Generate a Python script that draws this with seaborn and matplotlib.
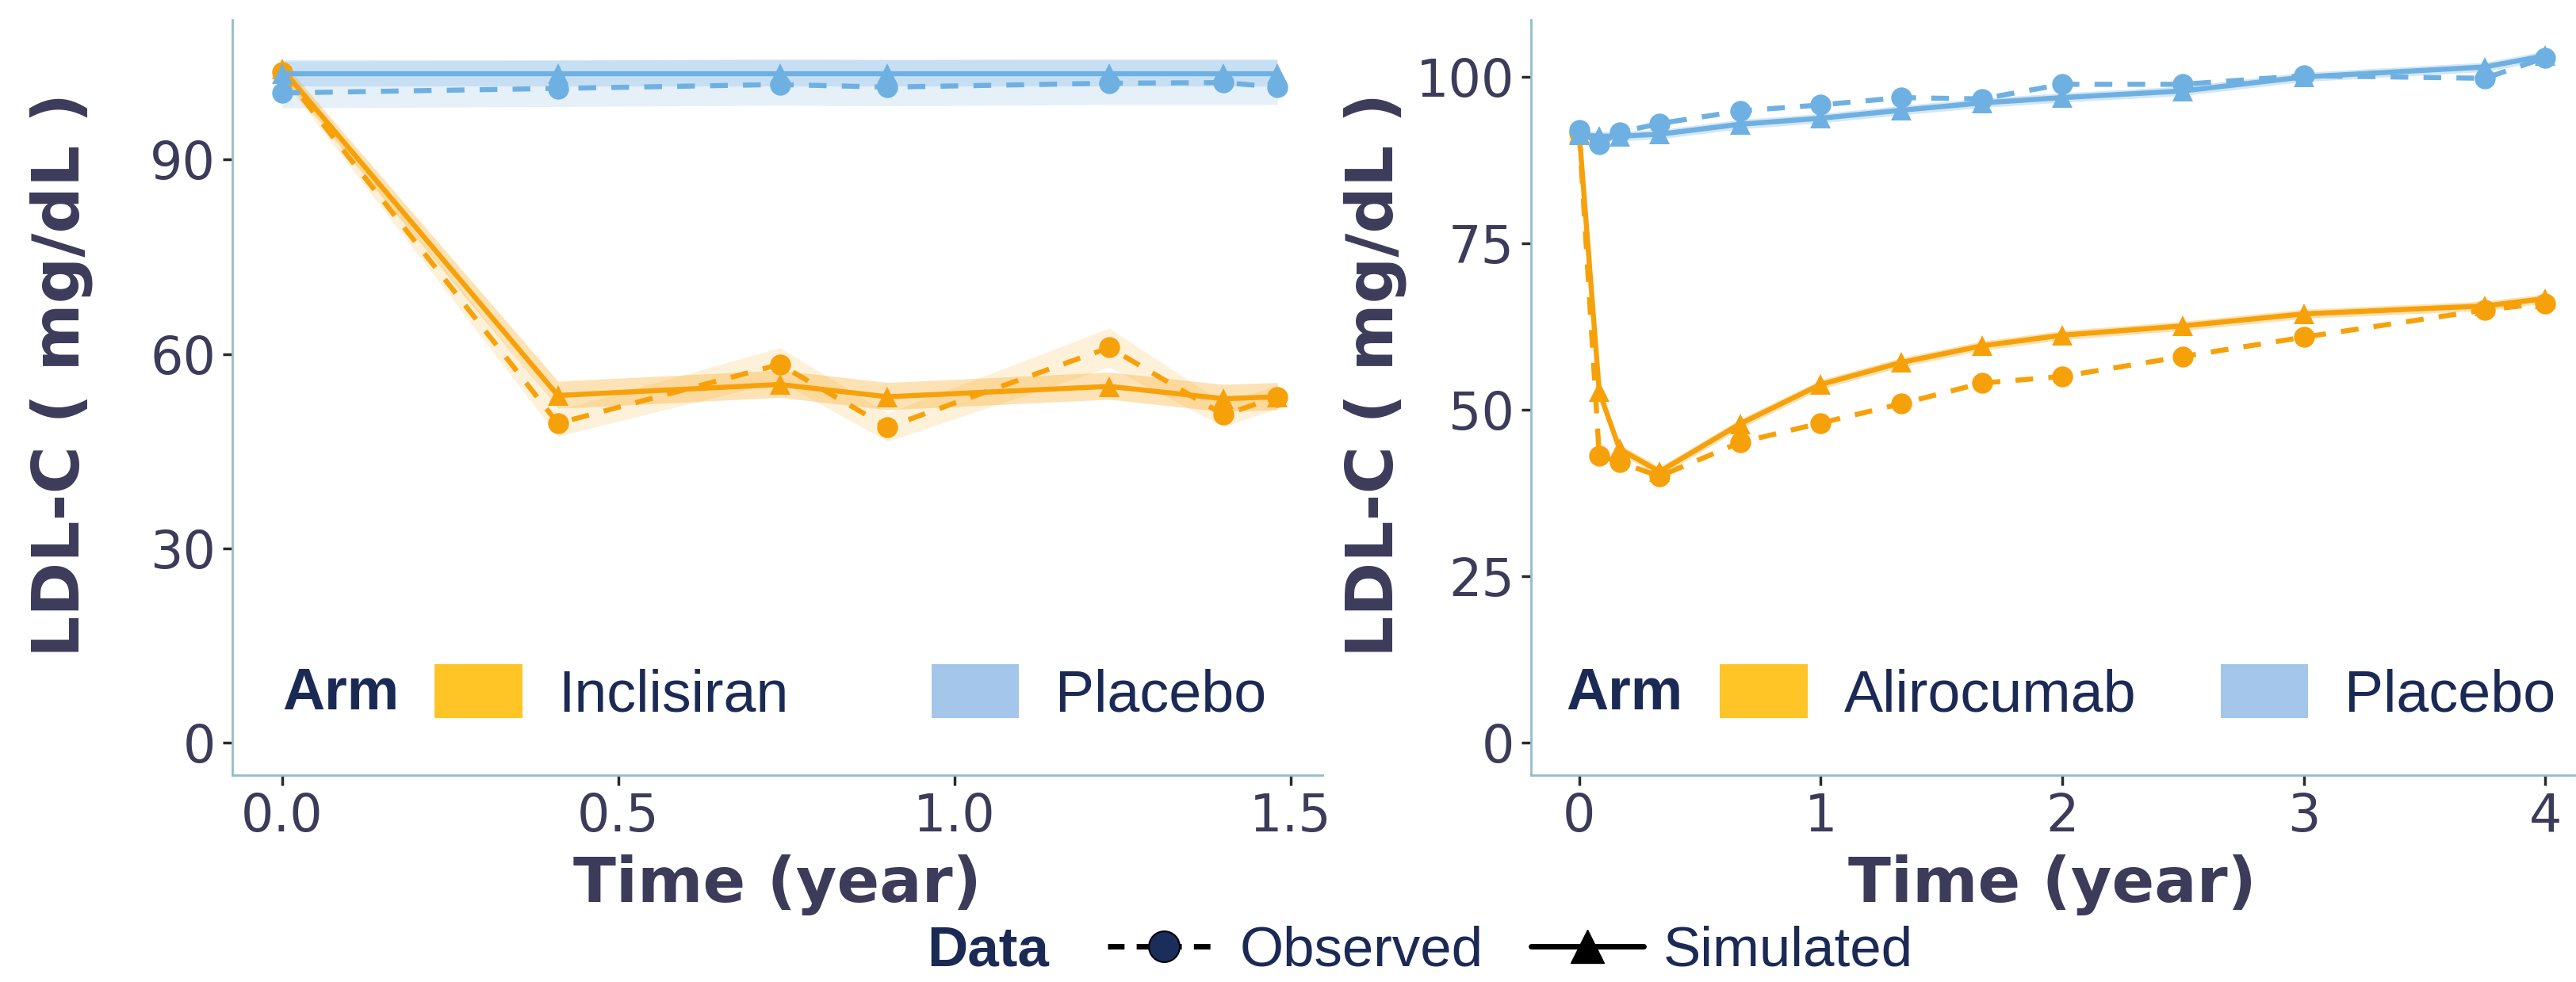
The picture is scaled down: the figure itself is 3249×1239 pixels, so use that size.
import matplotlib
matplotlib.use("Agg")
import matplotlib.pyplot as plt
import seaborn as sns
import pandas as pd
from matplotlib.patches import Patch
from matplotlib.lines import Line2D

# ----------------- DATA -----------------
# left panel: Inclisiran vs Placebo
t_left = [0.0, 0.41, 0.74, 0.90, 1.23, 1.40, 1.48]
incl_obs = [103.5, 49.3, 58.4, 48.7, 61.0, 50.6, 53.4]
incl_obs_lo = [102.5, 47.3, 55.8, 46.5, 58.0, 48.8, 51.6]
incl_obs_hi = [104.5, 51.3, 61.0, 50.9, 64.0, 52.4, 55.2]
incl_sim = [104.0, 53.6, 55.3, 53.4, 55.0, 53.1, 53.4]
incl_sim_lo = [102.8, 51.6, 53.3, 51.4, 53.0, 51.1, 51.4]
incl_sim_hi = [105.2, 55.8, 57.5, 55.6, 57.2, 55.3, 55.6]
plc_l_obs = [100.3, 101.0, 101.6, 101.2, 101.8, 101.9, 101.2]
plc_l_obs_lo = [98.0, 98.2, 98.4, 98.3, 98.5, 98.5, 98.5]
plc_l_obs_hi = [105.2, 105.3, 105.6, 105.5, 105.6, 105.6, 105.6]
plc_l_sim = [103.3, 103.3, 103.3, 103.3, 103.3, 103.3, 103.3]
plc_l_sim_lo = [101.3, 101.3, 101.3, 101.3, 101.3, 101.3, 101.3]
plc_l_sim_hi = [105.3, 105.3, 105.3, 105.3, 105.3, 105.3, 105.3]

# right panel: Alirocumab vs Placebo
t_right = [0.0, 0.083, 0.167, 0.333, 0.667, 1.0, 1.333, 1.667, 2.0, 2.5, 3.0, 3.75, 4.0]
aliro_obs = [91.6, 43.1, 42.1, 40.0, 45.1, 48.0, 50.9, 54.0, 55.0, 58.0, 60.9, 65.0, 66.0]
aliro_sim = [91.6, 52.7, 44.1, 40.7, 47.9, 53.8, 57.1, 59.6, 61.2, 62.6, 64.4, 65.6, 66.7]
aliro_sim_lo = [91.0, 52.0, 43.4, 40.0, 47.2, 53.1, 56.4, 58.9, 60.5, 61.9, 63.7, 64.9, 66.0]
aliro_sim_hi = [92.2, 53.4, 44.8, 41.4, 48.6, 54.5, 57.8, 60.3, 61.9, 63.3, 65.1, 66.3, 67.4]
plc_r_obs = [92.0, 89.9, 91.7, 93.0, 94.9, 95.8, 96.9, 96.7, 98.9, 98.9, 100.2, 99.8, 102.9]
plc_r_sim = [91.3, 91.1, 91.1, 91.4, 92.9, 93.8, 95.0, 96.1, 96.9, 97.9, 100.0, 101.5, 103.2]
plc_r_sim_lo = [90.6, 90.4, 90.4, 90.7, 92.2, 93.1, 94.3, 95.4, 96.2, 97.2, 99.3, 100.8, 102.5]
plc_r_sim_hi = [92.0, 91.8, 91.8, 92.1, 93.6, 94.5, 95.7, 96.8, 97.6, 98.6, 100.7, 102.2, 103.9]

ORANGE = "#F7A10A"
BLUE = "#6FB0E2"
ORANGE_PATCH = "#FFC425"
BLUE_PATCH = "#A3C6EA"
NAVY = "#1B2A55"
TICK_COL = "#3C3B5A"
SPINE_COL = "#94BCCB"


def long_df(t, arm, obs, sim):
    rows = []
    for ti, o, s in zip(t, obs, sim):
        rows.append({"Time": ti, "LDL": o, "Arm": arm, "Data": "Observed"})
        rows.append({"Time": ti, "LDL": s, "Arm": arm, "Data": "Simulated"})
    return rows


df_left = pd.DataFrame(long_df(t_left, "Inclisiran", incl_obs, incl_sim)
                       + long_df(t_left, "Placebo", plc_l_obs, plc_l_sim))
df_right = pd.DataFrame(long_df(t_right, "Alirocumab", aliro_obs, aliro_sim)
                        + long_df(t_right, "Placebo", plc_r_obs, plc_r_sim))

sns.set_theme(style="white")
plt.rcParams["font.family"] = ["DejaVu Sans"]

fig = plt.figure(figsize=(32.49, 12.39), dpi=100)
ax1 = fig.add_axes([0.0902, 0.2107, 0.4232, 0.7692])
ax2 = fig.add_axes([0.5943, 0.2107, 0.4050, 0.7692])

# ----------------- BANDS -----------------
ax1.fill_between(t_left, plc_l_obs_lo, plc_l_obs_hi, color=BLUE, alpha=0.18, lw=0)
ax1.fill_between(t_left, plc_l_sim_lo, plc_l_sim_hi, color=BLUE, alpha=0.25, lw=0)
ax1.fill_between(t_left, incl_obs_lo, incl_obs_hi, color=ORANGE, alpha=0.15, lw=0)
ax1.fill_between(t_left, incl_sim_lo, incl_sim_hi, color=ORANGE, alpha=0.3, lw=0)
ax2.fill_between(t_right, plc_r_sim_lo, plc_r_sim_hi, color=BLUE, alpha=0.3, lw=0)
ax2.fill_between(t_right, aliro_sim_lo, aliro_sim_hi, color=ORANGE, alpha=0.3, lw=0)

# ----------------- LINES -----------------
for ax, df, arms in [(ax1, df_left, ["Inclisiran", "Placebo"]),
                     (ax2, df_right, ["Alirocumab", "Placebo"])]:
    sns.lineplot(data=df, x="Time", y="LDL", hue="Arm", style="Data",
                 hue_order=arms, palette=[ORANGE, BLUE],
                 style_order=["Observed", "Simulated"],
                 markers={"Observed": "o", "Simulated": "^"},
                 dashes={"Observed": (3.5, 3.0), "Simulated": ""},
                 markersize=19, markeredgewidth=0, linewidth=4.6,
                 legend=False, ax=ax)

ax1.set_xlim(-0.074, 1.547)
ax1.set_ylim(-5, 111.6)
ax1.set_xticks([0.0, 0.5, 1.0, 1.5])
ax1.set_xticklabels(["0.0", "0.5", "1.0", "1.5"])
ax1.set_yticks([0, 30, 60, 90])

ax2.set_xlim(-0.2, 4.12)
ax2.set_ylim(-4.9, 108.6)
ax2.set_xticks([0, 1, 2, 3, 4])
ax2.set_yticks([0, 25, 50, 75, 100])

for ax, arms, arm_x, patch_x, colsp in [
        (ax1, ["Inclisiran", "Placebo"], 0.0458, 0.1855, 2.45),
        (ax2, ["Alirocumab", "Placebo"], 0.034, 0.1813, 1.45)]:
    for s in ["top", "right"]:
        ax.spines[s].set_visible(False)
    for s in ["left", "bottom"]:
        ax.spines[s].set_color(SPINE_COL)
        ax.spines[s].set_linewidth(2)
    ax.tick_params(axis="both", which="major", length=9, width=2.5,
                   color="#2A2A2A", labelsize=47, labelcolor=TICK_COL,
                   left=True, bottom=True, pad=6)
    ax.set_xlabel("Time (year)", fontsize=57, fontweight="bold",
                  color=TICK_COL)
    ax.set_ylabel("LDL-C ( mg/dL )", fontsize=59, fontweight="bold",
                  color=TICK_COL)
    ax.grid(False)

    # Arm legend
    ax.text(arm_x, 0.108, "Arm", transform=ax.transAxes, ha="left",
            va="center", fontsize=53, fontweight="bold", color=NAVY,
            family="Liberation Sans")
    handles = [Patch(facecolor=ORANGE_PATCH, edgecolor="none"),
               Patch(facecolor=BLUE_PATCH, edgecolor="none")]
    leg = ax.legend(handles, arms, loc="center left",
                    bbox_to_anchor=(patch_x, 0.108), ncol=2, frameon=False,
                    borderaxespad=0, borderpad=0, handlelength=1.5,
                    handleheight=1.05, handletextpad=0.62, columnspacing=colsp,
                    prop={"family": "Liberation Sans", "size": 53})
    for txt in leg.get_texts():
        txt.set_color(NAVY)

ax1.yaxis.set_label_coords(-0.128, 0.53)
ax2.yaxis.set_label_coords(-0.119, 0.53)
ax1.xaxis.set_label_coords(0.5, -0.105)
ax2.xaxis.set_label_coords(0.5, -0.105)

# ----------------- DATA LEGEND -----------------
fig.text(0.360, 0.031, "Data", ha="left", va="center", fontsize=51,
         fontweight="bold", color=NAVY, family="Liberation Sans")
data_handles = [
    Line2D([0], [0], color="black", lw=5, linestyle=(0, (3.0, 2.2)),
           marker="o", markersize=28, markerfacecolor="#1B2D5A",
           markeredgecolor="black", markeredgewidth=1.5),
    Line2D([0], [0], color="black", lw=5, linestyle="-",
           marker="^", markersize=30, markerfacecolor="black",
           markeredgecolor="black"),
]
dleg = fig.legend(data_handles, ["Observed", "Simulated"], loc="center left",
                  bbox_to_anchor=(0.430, 0.031), ncol=2, frameon=False,
                  borderaxespad=0, borderpad=0, handlelength=2.0,
                  handletextpad=0.35, columnspacing=0.85,
                  prop={"family": "Liberation Sans", "size": 51})
for txt in dleg.get_texts():
    txt.set_color(NAVY)

fig.savefig("out.png", dpi=100, facecolor="white")
